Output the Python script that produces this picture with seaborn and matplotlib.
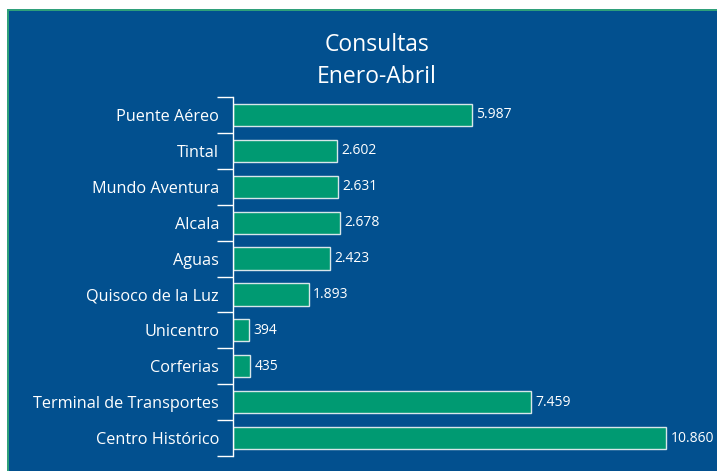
import numpy as np
import matplotlib
matplotlib.use("Agg")
import matplotlib.pyplot as plt
import seaborn as sb
from matplotlib.patches import Rectangle

#%% Daten

categories = ["Puente Aéreo", "Tintal", "Mundo Aventura", "Alcala", "Aguas",
              "Quisoco de la Luz", "Unicentro", "Corferias",
              "Terminal de Transportes", "Centro Histórico"]
values = [5987, 2602, 2631, 2678, 2423, 1893, 394, 435, 7459, 10860]
value_labels = [f"{v:,}".replace(",", ".") for v in values]

title = "Consultas\nEnero-Abril"

#%% Farben

bg_blue = "#02508F"
bar_green = "#009A72"
edge_col = "#D8E6EA"

sb.set_style("white")
plt.rcParams['font.family'] = ['Open Sans', 'DejaVu Sans']

fig = plt.figure(figsize=(7.17, 4.71), dpi=100)
fig.patch.set_facecolor("white")

# Hintergrund mit grünem Rand oben/links (hinter den Achsen)
fig.patches.append(Rectangle((7/717, 0), 1, 462/471, transform=fig.transFigure,
                             facecolor="#2FA07A", edgecolor="none", zorder=-10))
fig.patches.append(Rectangle((9/717, 0), 1, 460/471, transform=fig.transFigure,
                             facecolor=bg_blue, edgecolor="none", zorder=-9))

ax = fig.add_axes([233/717, 15/471, 479/717, 359/471])
ax.set_facecolor("none")

sb.barplot(x=values, y=categories, orient="h", color=bar_green, saturation=1,
           edgecolor=edge_col, linewidth=1, width=0.62, ax=ax)

ax.bar_label(ax.containers[0], labels=value_labels, padding=3,
             color="white", fontsize=10)

ax.set_xlim(0, 12000)
ax.set_ylim(len(categories) - 0.5, -0.5)
ax.set_xticks([])
ax.set_xlabel("")
ax.set_ylabel("")

for s in ["top", "right", "bottom"]:
    ax.spines[s].set_visible(False)
ax.spines["left"].set_color("white")
ax.spines["left"].set_linewidth(1)

ax.set_yticks(np.arange(len(categories)))
ax.set_yticklabels(categories, color="white", fontsize=11.7)
ax.tick_params(axis="y", which="major", length=0, pad=10)
ax.set_yticks(np.arange(-0.5, len(categories)), minor=True)
ax.tick_params(axis="y", which="minor", length=11.5, color="white", width=1, left=True)

fig.text(377/717, 1 - 61/471, title, ha="center", va="center",
         color="white", fontsize=16.5, linespacing=1.45)

plt.savefig("out.png", dpi=100)
